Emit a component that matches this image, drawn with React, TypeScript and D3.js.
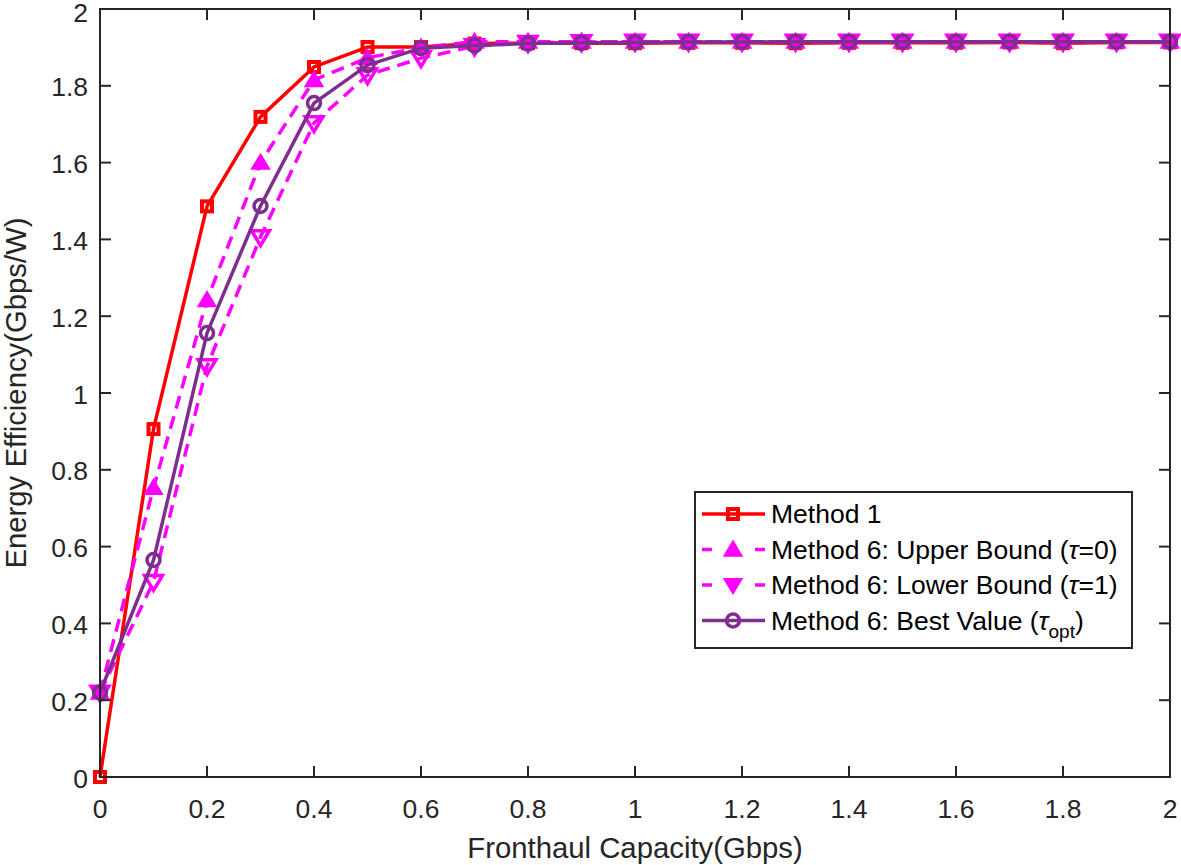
import React from 'react';
import * as d3 from 'd3';

// Fronthaul capacity (Gbps)
const capacity = [0, 0.1, 0.2, 0.3, 0.4, 0.5, 0.6, 0.7, 0.8, 0.9, 1, 1.1, 1.2, 1.3, 1.4, 1.5, 1.6, 1.7, 1.8, 1.9, 2];

const method1 = [0, 0.906, 1.486, 1.719, 1.849, 1.901, 1.901, 1.91, 1.911, 1.911, 1.911, 1.912, 1.912, 1.911, 1.912, 1.912, 1.912, 1.913, 1.911, 1.913, 1.913];
const upperBound = [0.22, 0.753, 1.242, 1.6, 1.815, 1.873, 1.9, 1.915, 1.915, 1.915, 1.915, 1.915, 1.915, 1.915, 1.915, 1.915, 1.915, 1.915, 1.915, 1.915, 1.915];
const lowerBound = [0.22, 0.508, 1.07, 1.406, 1.703, 1.828, 1.872, 1.903, 1.912, 1.914, 1.915, 1.915, 1.915, 1.915, 1.915, 1.915, 1.915, 1.915, 1.915, 1.915, 1.915];
const bestValue = [0.22, 0.565, 1.156, 1.487, 1.755, 1.854, 1.898, 1.905, 1.91, 1.912, 1.913, 1.914, 1.914, 1.915, 1.915, 1.915, 1.915, 1.915, 1.915, 1.915, 1.915];

const xTicks = [0, 0.2, 0.4, 0.6, 0.8, 1, 1.2, 1.4, 1.6, 1.8, 2];
const yTicks = [0, 0.2, 0.4, 0.6, 0.8, 1, 1.2, 1.4, 1.6, 1.8, 2];

type Marker = 'square' | 'up' | 'down' | 'circle';
interface Series {
  name: string;
  values: number[];
  color: string;
  dash?: string;
  marker: Marker;
}

const series: Series[] = [
  { name: 'Method 1', values: method1, color: '#FF0000', marker: 'square' },
  { name: 'upper', values: upperBound, color: '#FF00FF', dash: '13 8', marker: 'up' },
  { name: 'lower', values: lowerBound, color: '#FF00FF', dash: '13 8', marker: 'down' },
  { name: 'best', values: bestValue, color: '#7E2F8E', marker: 'circle' },
];

const W = 1181;
const H = 865;
const margin = { left: 100, right: 11, top: 9, bottom: 88 };
const FONT = "'Liberation Sans', Arial, Helvetica, sans-serif";
const AXIS = '#262626';

function MarkerShape({ type, x, y, color, solid }: { type: Marker; x: number; y: number; color: string; solid?: boolean }) {
  if (type === 'square') {
    return <rect x={x - 5} y={y - 5} width={10} height={10} fill="none" stroke={color} strokeWidth={4} />;
  }
  if (type === 'circle') {
    return <circle cx={x} cy={y} r={6.5} fill="none" stroke={color} strokeWidth={3.5} />;
  }
  const s = 8.5;
  const pts = type === 'up'
    ? `${x},${y - s} ${x + s * 1.05},${y + s * 0.75} ${x - s * 1.05},${y + s * 0.75}`
    : `${x},${y + s} ${x + s * 1.05},${y - s * 0.75} ${x - s * 1.05},${y - s * 0.75}`;
  const filled = type === 'up' || solid;
  return <polygon points={pts} fill={filled ? color : 'none'} stroke={color} strokeWidth={filled ? 1.5 : 3.5} strokeLinejoin="miter" />;
}

export default function App() {
  const x = d3.scaleLinear().domain([0, 2]).range([margin.left, W - margin.right]);
  const y = d3.scaleLinear().domain([0, 2]).range([H - margin.bottom, margin.top]);
  const x0 = x.range()[0], x1 = x.range()[1];
  const y0 = y.range()[0], y1 = y.range()[1];

  const line = d3.line<number>()
    .x((_, i) => x(capacity[i]))
    .y((d) => y(d));

  const legendX = 695, legendY = 492;
  const legendRows = [514, 549.5, 585, 620.5];

  return (
    <svg width={W} height={H} style={{ position: 'absolute', left: 0, top: 0, background: '#fff' }} fontFamily={FONT}>
      <rect x={0} y={0} width={W} height={H} fill="#fff" />

      {/* series */}
      {series.map((s) => (
        <g key={s.name}>
          <path d={line(s.values) || ''} fill="none" stroke={s.color} strokeWidth={3.5}
            strokeDasharray={s.dash} strokeLinejoin="round" />
          {s.values.map((v, i) => (
            <MarkerShape key={i} type={s.marker} x={x(capacity[i])} y={y(v)} color={s.color} />
          ))}
        </g>
      ))}

      {/* axes box */}
      <rect x={x0} y={y1} width={x1 - x0} height={y0 - y1} fill="none" stroke={AXIS} strokeWidth={2} />

      {xTicks.map((t) => (
        <g key={'x' + t}>
          <line x1={x(t)} x2={x(t)} y1={y0} y2={y0 - 11} stroke={AXIS} strokeWidth={2} />
          <line x1={x(t)} x2={x(t)} y1={y1} y2={y1 + 11} stroke={AXIS} strokeWidth={2} />
          <text x={x(t)} y={y0 + 41} textAnchor="middle" fontSize={26.5} fill={AXIS}>{String(t)}</text>
        </g>
      ))}
      {yTicks.map((t) => (
        <g key={'y' + t}>
          <line x1={x0} x2={x0 + 11} y1={y(t)} y2={y(t)} stroke={AXIS} strokeWidth={2} />
          <line x1={x1} x2={x1 - 11} y1={y(t)} y2={y(t)} stroke={AXIS} strokeWidth={2} />
          <text x={x0 - 12} y={Math.max(y(t) + 10.5, 22)} textAnchor="end" fontSize={26.5} fill={AXIS}>{String(t)}</text>
        </g>
      ))}

      <text x={(x0 + x1) / 2} y={858} textAnchor="middle" fontSize={29.3} fill={AXIS}>Fronthaul Capacity(Gbps)</text>
      <text transform={`translate(26, ${(y0 + y1) / 2}) rotate(-90)`} textAnchor="middle" fontSize={29.3} fill={AXIS}>
        Energy Efficiency(Gbps/W)
      </text>

      {/* legend */}
      <rect x={legendX} y={legendY} width={437} height={156} fill="#fff" stroke={AXIS} strokeWidth={2} />
      {series.map((s, i) => {
        const ly = legendRows[i];
        return (
          <g key={'lg' + s.name}>
            {s.dash ? (
              <>
                <line x1={702} x2={712} y1={ly} y2={ly} stroke={s.color} strokeWidth={3.5} />
                <line x1={755} x2={765} y1={ly} y2={ly} stroke={s.color} strokeWidth={3.5} />
              </>
            ) : (
              <line x1={702} x2={765} y1={ly} y2={ly} stroke={s.color} strokeWidth={3.5} />
            )}
            <MarkerShape type={s.marker} x={733} y={ly} color={s.color} solid />
          </g>
        );
      })}
      <g fontSize={26.5} fill="#000">
        <text x={771} y={legendRows[0] + 9}>Method 1</text>
        <text x={771} y={legendRows[1] + 9}>Method 6: Upper Bound (<tspan fontStyle="italic">τ</tspan>=0)</text>
        <text x={771} y={legendRows[2] + 9}>Method 6: Lower Bound (<tspan fontStyle="italic">τ</tspan>=1)</text>
        <text x={771} y={legendRows[3] + 9}>
          Method 6: Best Value (<tspan fontStyle="italic">τ</tspan><tspan fontSize={19} dy={8}>opt</tspan><tspan dy={-8}>)</tspan>
        </text>
      </g>
    </svg>
  );
}
